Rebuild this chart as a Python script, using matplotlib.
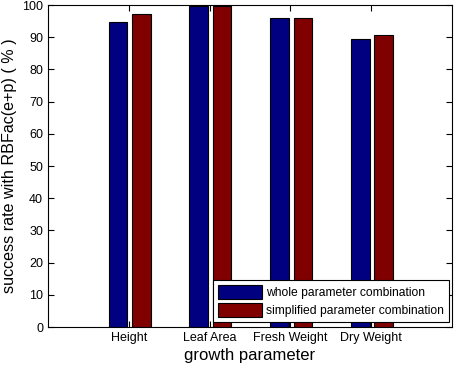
import matplotlib
matplotlib.use("Agg")
import matplotlib.pyplot as plt
import numpy as np

plt.rcParams['font.family'] = ['Liberation Sans', 'DejaVu Sans']

categories = ["Height", "Leaf Area", "Fresh Weight", "Dry Weight"]
whole = [94.7, 99.8, 96.0, 89.3]
simplified = [97.3, 99.8, 96.0, 90.8]

fig = plt.figure(figsize=(4.59, 3.68), dpi=100)
ax = fig.add_axes([0.1046, 0.1114, 0.8801, 0.875])

x = np.arange(1, len(categories) + 1)
w = 0.23
ax.bar(x - 0.135, whole, width=w, color="#000080", edgecolor="black", linewidth=0.8,
       label="whole parameter combination")
ax.bar(x + 0.155, simplified, width=w, color="#800000", edgecolor="black", linewidth=0.8,
       label="simplified parameter combination")

ax.set_xlim(0, 5)
ax.set_ylim(0, 100)
ax.set_xticks(x)
ax.set_xticklabels(categories)
ax.set_yticks(np.arange(0, 101, 10))
ax.tick_params(direction="in", top=True, right=True, labelsize=9, length=4, width=0.8)
ax.set_xlabel("growth parameter", fontsize=12, labelpad=3)
ax.set_ylabel("success rate with RBFac(e+p) ( % )", fontsize=11.6, labelpad=4)
for s in ax.spines.values():
    s.set_linewidth(0.8)

leg = ax.legend(loc="lower right", bbox_to_anchor=(0.993, 0.016), fontsize=8.7,
                frameon=True, fancybox=False, edgecolor="black", framealpha=1,
                handlelength=3.6, handleheight=1.35, borderpad=0.4, labelspacing=0.35,
                handletextpad=0.4, borderaxespad=0)
leg.get_frame().set_linewidth(0.8)

fig.savefig("out.png", dpi=100)
